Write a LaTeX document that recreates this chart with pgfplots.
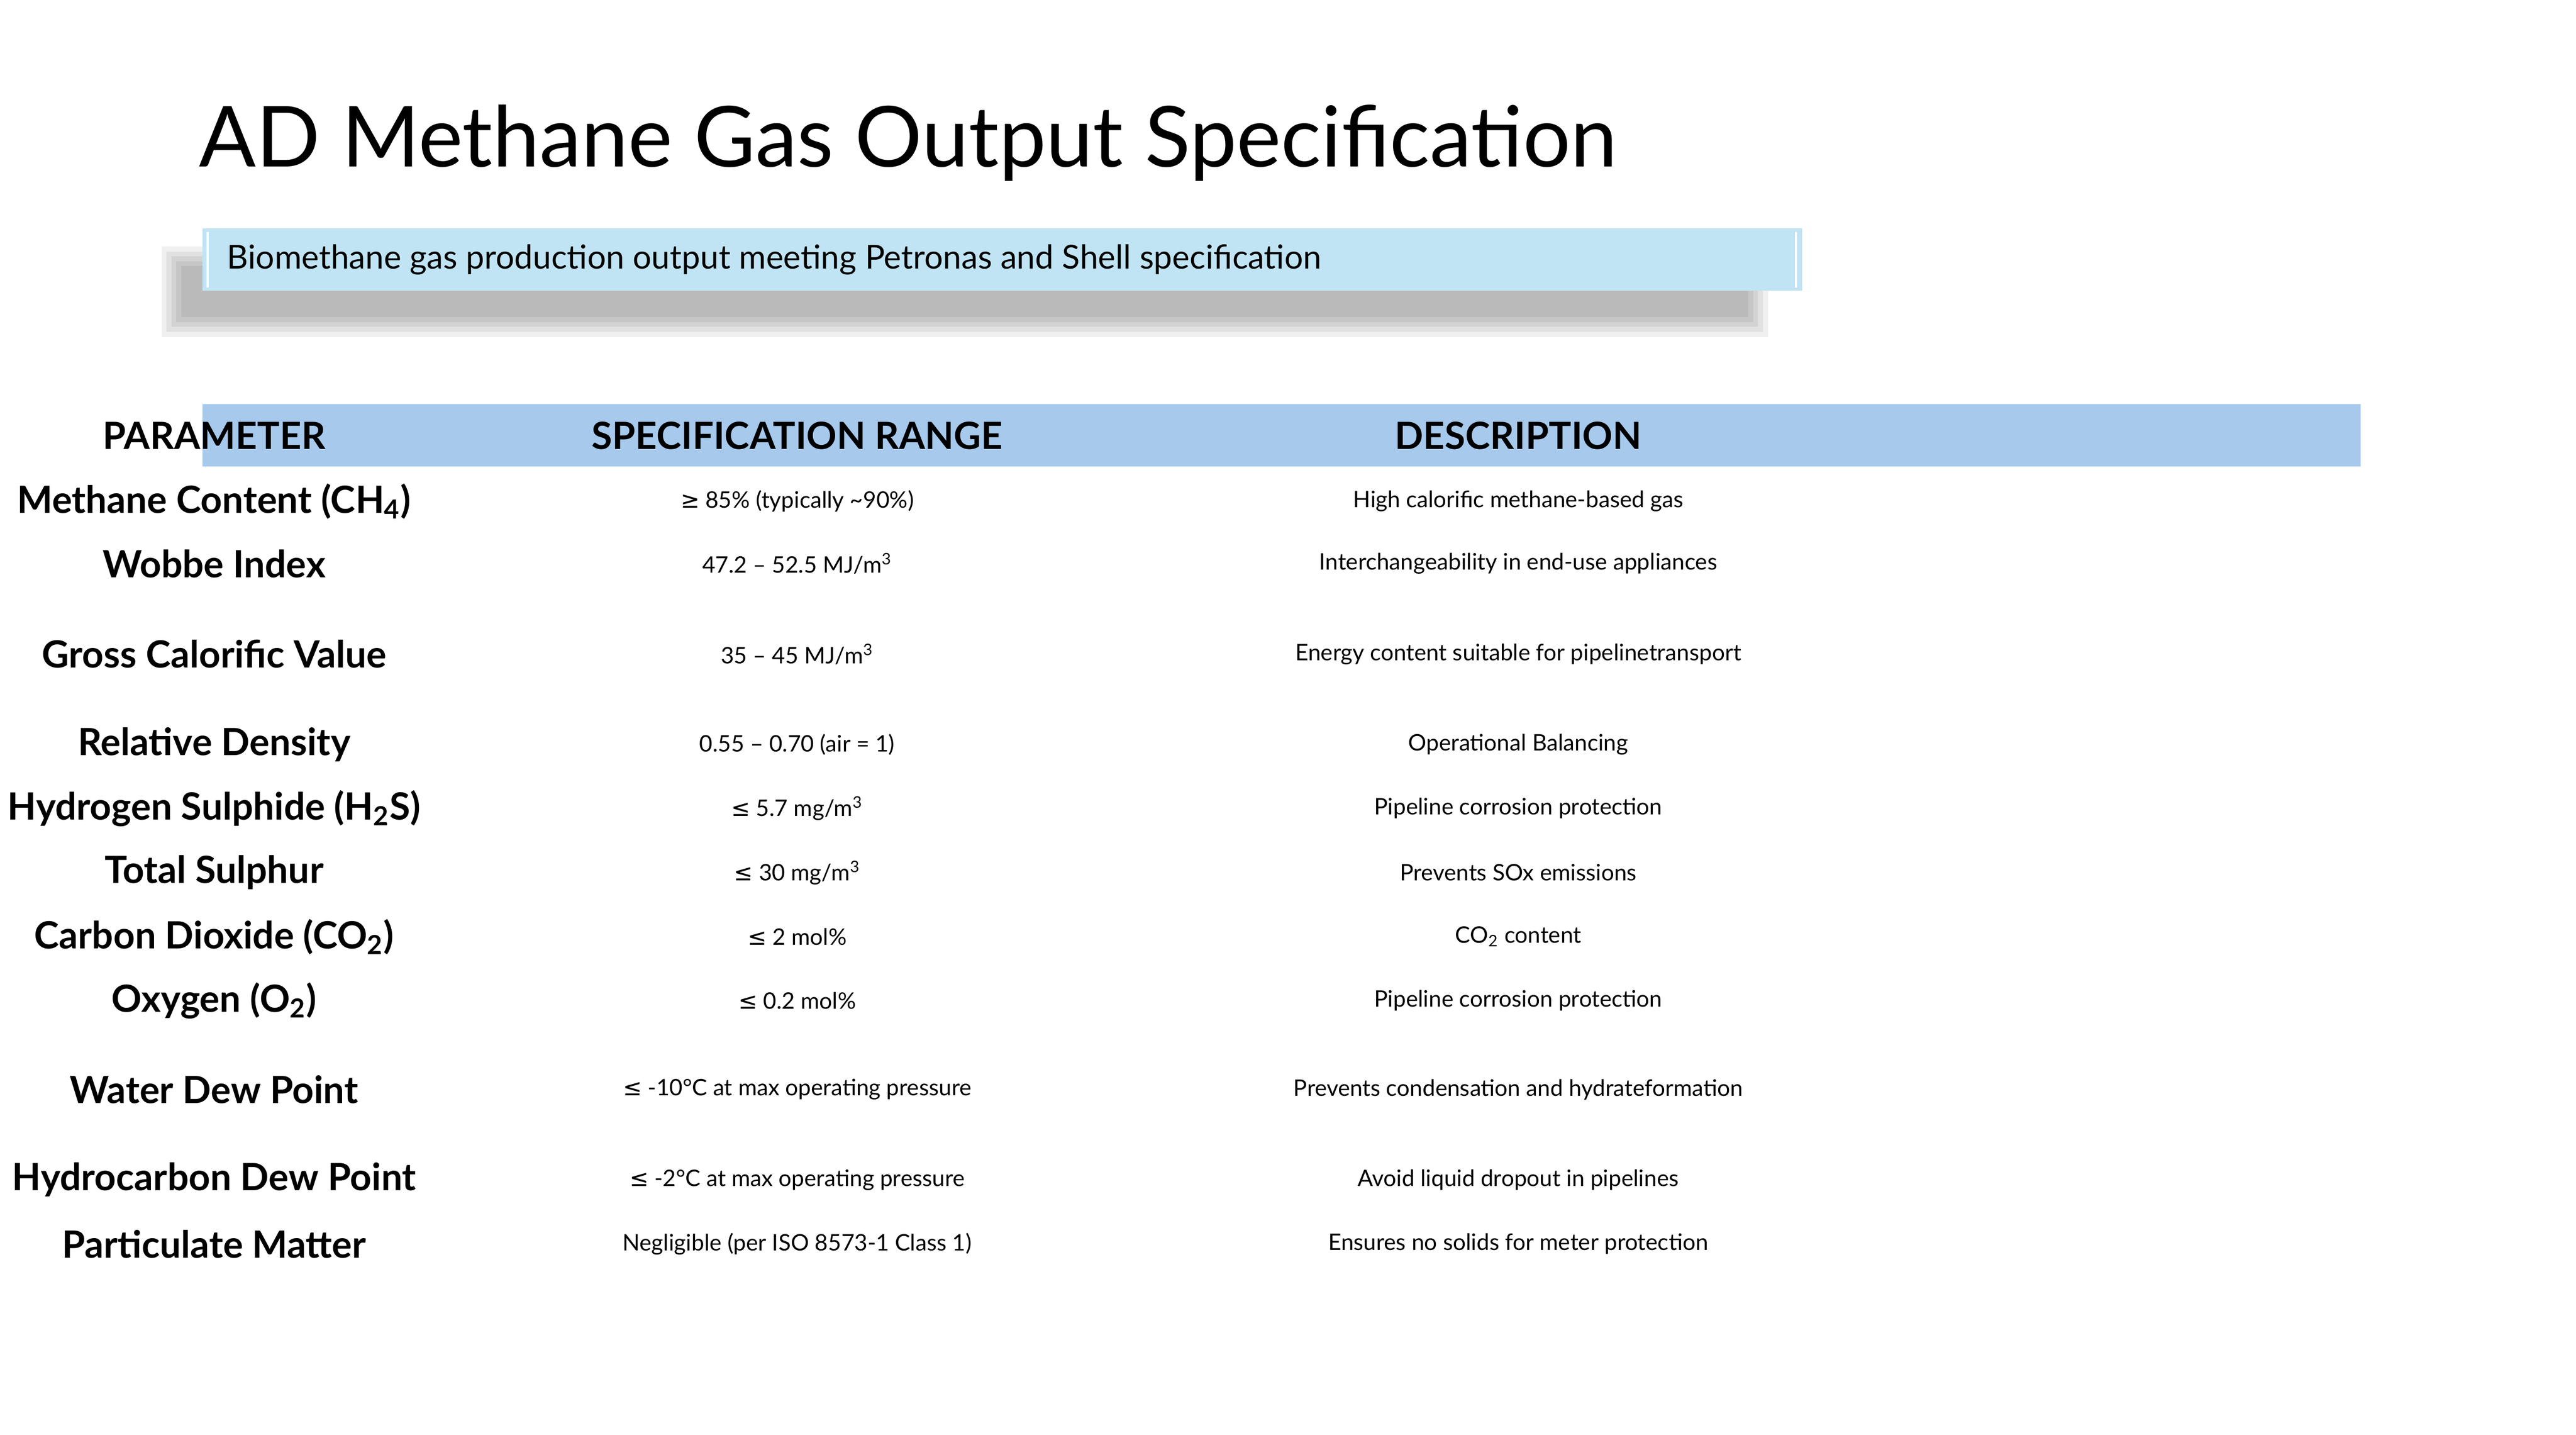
\documentclass[border=0pt]{standalone}
\usepackage{pgfplots}
\pgfplotsset{compat=1.18}
\usepackage{fontspec}
\setmainfont{Lato}
\newfontfamily\sym{DejaVu Sans}
\definecolor{hdr}{RGB}{166,201,236}
\definecolor{sub}{RGB}{192,228,243}
\begin{document}
\begin{tikzpicture}
\begin{axis}[width=15.52in,height=8.73in,scale only axis,hide axis,
  xmin=0,xmax=1552,ymin=0,ymax=873,y dir=reverse,clip=false]
\addplot[draw=none] coordinates {(0,0) (1552,873)};
\draw[draw=none,fill=white] (axis cs:0,0) rectangle (axis cs:1552,873);
% subtitle shadow
\fill[black,opacity=0.06] (axis cs:82,150) rectangle (axis cs:1060,205);
\fill[black,opacity=0.06] (axis cs:85,153) rectangle (axis cs:1057,202);
\fill[black,opacity=0.06] (axis cs:88,156) rectangle (axis cs:1054,199);
\fill[black,opacity=0.06] (axis cs:91,159) rectangle (axis cs:1051,196);
\fill[black,opacity=0.06] (axis cs:94,162) rectangle (axis cs:1048,193);
\fill[sub] (axis cs:107,139) rectangle (axis cs:1081,177);
\draw[white,line width=1pt] (axis cs:110,141) -- (axis cs:110,175);
\draw[white,line width=1pt] (axis cs:1077,141) -- (axis cs:1077,175);
\node[anchor=west,font=\fontsize{14.5}{17}\selectfont] at (axis cs:117,158) {Biomethane gas production output meeting Petronas and Shell specification};
\node[anchor=west,font=\fontsize{37}{44}\selectfont] at (axis cs:100,87) {AD Methane Gas Output Specification};
\fill[hdr] (axis cs:107,246) rectangle (axis cs:1421,284);
\pgfplotsset{every node/.append style={anchor=west,font=\fontsize{16.5}{22}\selectfont,align=left}}
\node[font=\fontsize{16.5}{22}\selectfont\bfseries] at (axis cs:114,265) {PARAMETER};
\node[font=\fontsize{16.5}{22}\selectfont\bfseries] at (axis cs:469,265) {SPECIFICATION RANGE};
\node[font=\fontsize{16.5}{22}\selectfont\bfseries] at (axis cs:908,265) {DESCRIPTION};
% parameters
\node[font=\fontsize{16.5}{22}\selectfont\bfseries] at (axis cs:114,305) {Methane Content (CH\textsubscript{4})};
\node[font=\fontsize{16.5}{22}\selectfont\bfseries] at (axis cs:114,343) {Wobbe Index};
\node[font=\fontsize{16.5}{22}\selectfont\bfseries] at (axis cs:114,398) {Gross Calorific Value};
\node[font=\fontsize{16.5}{22}\selectfont\bfseries] at (axis cs:114,453) {Relative Density};
\node[font=\fontsize{16.5}{22}\selectfont\bfseries] at (axis cs:114,492) {Hydrogen Sulphide (H\textsubscript{2}S)};
\node[font=\fontsize{16.5}{22}\selectfont\bfseries] at (axis cs:114,531) {Total Sulphur};
\node[font=\fontsize{16.5}{22}\selectfont\bfseries] at (axis cs:114,570) {Carbon Dioxide (CO\textsubscript{2})};
\node[font=\fontsize{16.5}{22}\selectfont\bfseries] at (axis cs:114,609) {Oxygen (O\textsubscript{2})};
\node[font=\fontsize{16.5}{22}\selectfont\bfseries] at (axis cs:114,663) {Water Dew Point};
\node[font=\fontsize{16.5}{22}\selectfont\bfseries] at (axis cs:114,718) {Hydrocarbon Dew Point};
\node[font=\fontsize{16.5}{22}\selectfont\bfseries] at (axis cs:114,757) {Particulate Matter};
% ranges
\node at (axis cs:469,305) {{\sym ≥} 85\% (typically \textasciitilde90\%)};
\node at (axis cs:469,343) {47.2 – 52.5 MJ/m\textsuperscript{3}};
\node at (axis cs:469,398) {35 – 45 MJ/m\textsuperscript{3}};
\node at (axis cs:469,453) {0.55 – 0.70 (air = 1)};
\node at (axis cs:469,492) {{\sym ≤} 5.7 mg/m\textsuperscript{3}};
\node at (axis cs:469,531) {{\sym ≤} 30 mg/m\textsuperscript{3}};
\node at (axis cs:469,570) {{\sym ≤} 2 mol\%};
\node at (axis cs:469,609) {{\sym ≤} 0.2 mol\%};
\node at (axis cs:469,663) {{\sym ≤} -10°C at max operating pressure};
\node at (axis cs:469,718) {{\sym ≤} -2°C at max operating pressure};
\node at (axis cs:469,757) {Negligible (per ISO 8573-1 Class 1)};
% descriptions
\node at (axis cs:908,305) {High calorific methane-based gas};
\node at (axis cs:908,343) {Interchangeability in end-use appliances};
\node at (axis cs:908,398) {Energy content suitable for pipeline\\transport};
\node at (axis cs:908,453) {Operational Balancing};
\node at (axis cs:908,492) {Pipeline corrosion protection};
\node at (axis cs:908,531) {Prevents SOx emissions};
\node at (axis cs:908,570) {CO\textsubscript{2} content};
\node at (axis cs:908,609) {Pipeline corrosion protection};
\node at (axis cs:908,663) {Prevents condensation and hydrate\\formation};
\node at (axis cs:908,718) {Avoid liquid dropout in pipelines};
\node at (axis cs:908,757) {Ensures no solids for meter protection};
\end{axis}
\end{tikzpicture}
\end{document}
